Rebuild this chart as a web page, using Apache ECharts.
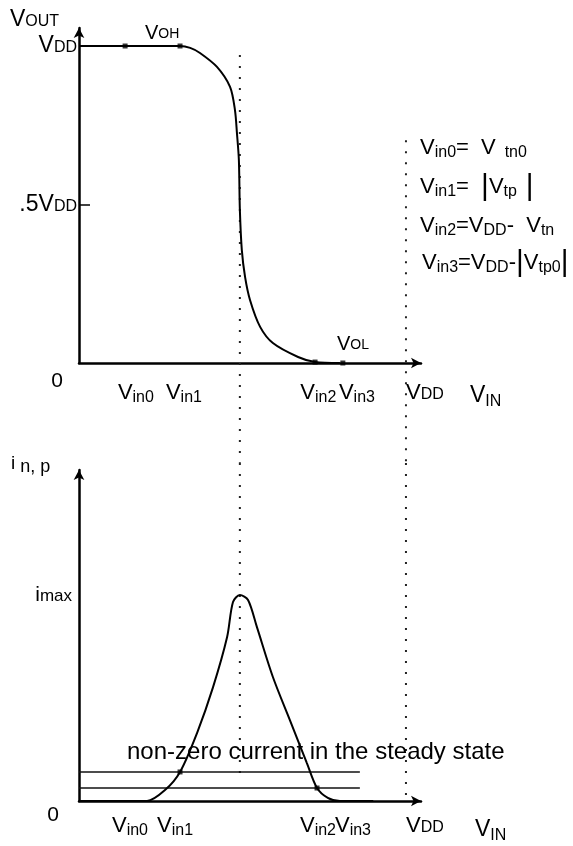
<!DOCTYPE html>
<html><head><meta charset="utf-8">
<script src="https://cdn.jsdelivr.net/npm/echarts@6/dist/echarts.min.js"></script>
<style>html,body{margin:0;padding:0;background:#fff}#c{width:573px;height:846px}</style>
</head><body><div id="c"></div>
<script>
// ---- data (x in units of VDD) ----
const vtcX = [0, 0.25, 0.309, 0.340, 0.370, 0.422, 0.462, 0.477, 0.483, 0.489, 0.492, 0.498, 0.508, 0.523, 0.554, 0.593, 0.670, 0.722, 0.798];
const vtcY = [1.0, 1.0, 1.0, 0.994, 0.978, 0.934, 0.871, 0.798, 0.726, 0.640, 0.483, 0.356, 0.271, 0.199, 0.114, 0.063, 0.019, 0.003, 0];
const curX = [0, 0.15, 0.208, 0.263, 0.309, 0.361, 0.410, 0.453, 0.471, 0.492, 0.517, 0.544, 0.593, 0.645, 0.697, 0.728, 0.761, 0.798, 0.9];
const curY = [0, 0, 0, 0.053, 0.141, 0.330, 0.553, 0.796, 0.966, 1.0, 0.976, 0.845, 0.602, 0.393, 0.184, 0.063, 0.015, 0, 0];
const vtcDotX = [0.141, 0.309, 0.722, 0.807];
const vtcDotY = [1.0, 1.0, 0.003, 0];
const curDotX = [0.309, 0.728];
const curDotY = [0.141, 0.063];
const steadyLevels = [0.141, 0.063];
const steadyEnd = 0.859;
const vMid = 0.492;           // Vin at the switching point
const vdd = 1;
const topTickPos = [0.174, 0.321, 0.732, 0.850, 1];
const botTickPos = [0.156, 0.294, 0.731, 0.838, 1];
const xTickNames = ['Vin0', 'Vin1', 'Vin2', 'Vin3', 'VDD'];
const topYTicks = [0, 0.5, 1];
const topYNames = ['0', '.5VDD', 'VDD'];
const botYTicks = [0, 1];
const botYNames = ['0', 'imax'];

const FF = '"Liberation Sans", Arial, Helvetica, sans-serif';
const INK = '#000';

function richX(name) {
  if (name === 'VDD') return '{v|V}{dd|DD}';
  return '{v|V}{s|' + name.slice(1) + '}';
}
const xRich = {
  v: {fontSize: 22, lineHeight: 22, fontFamily: FF, color: INK},
  s: {fontSize: 16, lineHeight: 16, fontFamily: FF, color: INK, padding: [10, 0, 0, 0]},
  dd: {fontSize: 16, lineHeight: 16, fontFamily: FF, color: INK, padding: [4, 0, 0, 0]}
};
function nearestIdx(arr, v) {
  let b = 0; for (let i = 1; i < arr.length; i++) if (Math.abs(arr[i] - v) < Math.abs(arr[b] - v)) b = i; return b;
}
function xAxisCfg(grid, ticks, margin) {
  return {
    type: 'value', gridIndex: grid, min: 0, max: 1.046,
    axisLine: {show: true, onZero: false, symbol: ['none', 'arrow'], symbolSize: [8, 10], lineStyle: {color: INK, width: 2.5}},
    axisTick: {show: false}, splitLine: {show: false},
    axisLabel: {show: true, customValues: ticks, margin: margin, hideOverlap: false,
      showMinLabel: true, showMaxLabel: true, alignMaxLabel: 'left',
      formatter: v => richX(xTickNames[nearestIdx(ticks, v)]), rich: xRich}
  };
}
const yRichTop = {
  v: {fontSize: 23, lineHeight: 23, fontFamily: FF, color: INK},
  dd: {fontSize: 16, lineHeight: 16, fontFamily: FF, color: INK, padding: [4, 0, 0, 0]},
  z: {fontSize: 21, lineHeight: 21, fontFamily: FF, color: INK, padding: [36, 14, 0, 0]}
};
const yRichBot = {
  i: {fontSize: 21, lineHeight: 21, fontFamily: FF, color: INK},
  m: {fontSize: 17, lineHeight: 17, fontFamily: FF, color: INK, padding: [3, 0, 0, 0]},
  z: {fontSize: 21, lineHeight: 21, fontFamily: FF, color: INK, padding: [28, 13, 0, 0]}
};
function yTopFmt(v) {
  const n = topYNames[nearestIdx(topYTicks, v)];
  if (n === '0') return '{z|0}';
  if (n === 'VDD') return '{v|V}{dd|DD}';
  return '{v|.5V}{dd|DD}';
}
function yBotFmt(v) {
  const n = botYNames[nearestIdx(botYTicks, v)];
  if (n === '0') return '{z|0}';
  return '{i|i}{m|max}';
}
const zip = (a, b) => a.map((x, i) => [x, b[i]]);
const dotted = (xi, x, y0, y1) => ({
  type: 'line', xAxisIndex: xi, yAxisIndex: xi, clip: false, silent: true, showSymbol: false,
  data: [[x, y0], [x, y1]], lineStyle: {color: '#222', width: 2, type: [2, 9], cap: 'butt'}, z: 1
});

const chart = echarts.init(document.getElementById('c'), null, {renderer: 'canvas'});
const eqRich = {
  ev: {fontSize: 22, lineHeight: 22, fontFamily: FF, color: INK},
  es: {fontSize: 16, lineHeight: 16, fontFamily: FF, color: INK, padding: [10, 0, 0, 0]},
  eb: {fontSize: 30, lineHeight: 30, fontFamily: FF, color: INK}
};
const txt = (x, y, text, rich, extra) => Object.assign({
  type: 'text', x: x, y: y, z: 10,
  style: Object.assign({text: text, rich: rich, fill: INK, font: '17px ' + FF, align: 'left', verticalAlign: 'middle'}, extra || {})
});
const nameRich = {
  v: {fontSize: 23, lineHeight: 23, fontFamily: FF, color: INK},
  dd: {fontSize: 16, lineHeight: 16, fontFamily: FF, color: INK, padding: [4, 0, 0, 0]},
  s: {fontSize: 16, lineHeight: 16, fontFamily: FF, color: INK, padding: [11, 0, 0, 0]},
  sv: {fontSize: 20, lineHeight: 20, fontFamily: FF, color: INK},
  sdd: {fontSize: 14, lineHeight: 14, fontFamily: FF, color: INK, padding: [3, 0, 0, 0]},
  i: {fontSize: 19, lineHeight: 19, fontFamily: FF, color: INK},
  np: {fontSize: 18, lineHeight: 18, fontFamily: FF, color: INK, padding: [6, 0, 0, 0]}
};

chart.setOption({
  animation: false,
  backgroundColor: '#fff',
  grid: [
    {left: 79, right: 152, top: 28, bottom: 483, outerBoundsMode: 'none'},
    {left: 79, right: 152, top: 470, bottom: 45, outerBoundsMode: 'none'}
  ],
  xAxis: [xAxisCfg(0, topTickPos, 19), xAxisCfg(1, botTickPos, 14)],
  yAxis: [
    {type: 'value', gridIndex: 0, min: 0, max: 1.0568,
      axisLine: {show: true, onZero: false, symbol: ['none', 'arrow'], symbolSize: [8, 10], lineStyle: {color: INK, width: 2.5}},
      axisTick: {show: true, inside: true, customValues: [0.5], length: 11, lineStyle: {color: INK, width: 1.5}},
      splitLine: {show: false},
      axisLabel: {customValues: topYTicks, margin: 2, formatter: yTopFmt, rich: yRichTop, hideOverlap: false,
        showMinLabel: true, showMaxLabel: true}},
    {type: 'value', gridIndex: 1, min: 0, max: 1.6068,
      axisLine: {show: true, onZero: false, symbol: ['none', 'arrow'], symbolSize: [8, 10], lineStyle: {color: INK, width: 2.5}},
      axisTick: {show: false}, splitLine: {show: false},
      axisLabel: {customValues: botYTicks, margin: 7, formatter: yBotFmt, rich: yRichBot, hideOverlap: false,
        showMinLabel: true, showMaxLabel: true}}
  ],
  series: [
    dotted(0, vMid, 0.972, -0.315),
    dotted(0, vdd, 0.703, -0.315),
    dotted(1, vMid, 1.641, 0.102),
    dotted(1, vdd, 1.641, 0.005),
    {type: 'line', xAxisIndex: 0, yAxisIndex: 0, data: zip(vtcX, vtcY), smooth: 0.3,
      showSymbol: false, lineStyle: {color: INK, width: 2}, z: 3},
    {type: 'scatter', xAxisIndex: 0, yAxisIndex: 0, data: zip(vtcDotX, vtcDotY), symbol: 'rect', symbolSize: 5,
      itemStyle: {color: INK}, z: 4},
    {type: 'line', xAxisIndex: 1, yAxisIndex: 1, data: zip(curX, curY), smooth: 0.3,
      showSymbol: false, lineStyle: {color: INK, width: 2}, z: 3},
    {type: 'scatter', xAxisIndex: 1, yAxisIndex: 1, data: zip(curDotX, curDotY), symbol: 'rect', symbolSize: 5,
      itemStyle: {color: INK}, z: 4},
    {type: 'line', xAxisIndex: 1, yAxisIndex: 1, data: [[0, steadyLevels[0]], [steadyEnd, steadyLevels[0]]],
      showSymbol: false, lineStyle: {color: '#111', width: 1.5}, z: 2},
    {type: 'line', xAxisIndex: 1, yAxisIndex: 1, data: [[0, steadyLevels[1]], [steadyEnd, steadyLevels[1]]],
      showSymbol: false, lineStyle: {color: '#111', width: 1.5}, z: 2}
  ],
  graphic: [
    txt(10, 20, '{v|V}{dd|OUT}', nameRich),
    txt(145, 33, '{sv|V}{sdd|OH}', nameRich),
    txt(337, 344, '{sv|V}{sdd|OL}', nameRich),
    txt(470, 396, '{v|V}{s|IN}', nameRich),
    txt(475, 830, '{v|V}{s|IN}', nameRich),
    txt(11, 464, '{i|i}{np| n, p}', nameRich),
    txt(420, 148, '{ev|V}{es|in0}{ev|=  V}{es|  tn0}', eqRich),
    txt(420, 187, '{ev|V}{es|in1}{ev|=  }{eb||}{ev|V}{es|tp  }{eb||}', eqRich),
    txt(420, 226, '{ev|V}{es|in2}{ev|=V}{es|DD}{ev|-  V}{es|tn}', eqRich),
    txt(422, 263, '{ev|V}{es|in3}{ev|=V}{es|DD}{ev|-}{eb||}{ev|V}{es|tp0}{eb||}', eqRich),
    txt(127, 752, 'non-zero current in the steady state', null, {font: '24px ' + FF})
  ]
});
</script></body></html>
